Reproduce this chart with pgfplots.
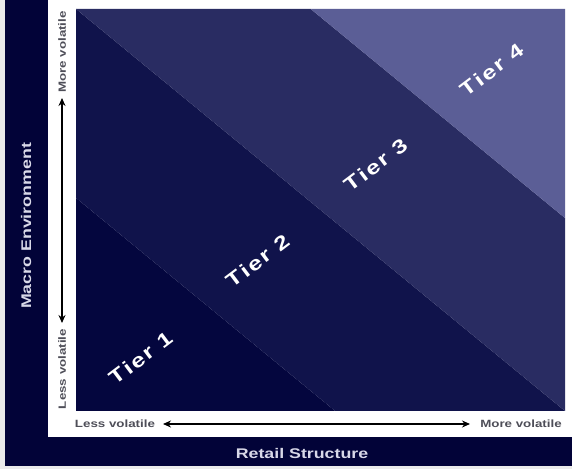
\documentclass[border=0pt]{standalone}
\usepackage{pgfplots}
\pgfplotsset{compat=1.18}
\usepackage{fontspec}
\setmainfont{Liberation Sans}[FakeStretch=1.27]
\newfontfamily\tierfont{Liberation Sans Bold}[FakeStretch=1.27,LetterSpace=10]
\usetikzlibrary{arrows.meta}

\definecolor{frame}{RGB}{2,3,56}
\definecolor{tierone}{RGB}{4,6,62}
\definecolor{tiertwo}{RGB}{16,19,75}
\definecolor{tierthree}{RGB}{41,44,98}
\definecolor{tierfour}{RGB}{91,94,150}
\definecolor{titletext}{RGB}{216,216,232}
\definecolor{smalltext}{RGB}{78,78,88}

\begin{document}
\begin{tikzpicture}[x=1bp,y=1bp]
\path[use as bounding box] (0,0) rectangle (572,469);
\fill[black!8] (0,0) rectangle (572,469);
\fill[frame] (5,3) rectangle (572,469);
\fill[white] (48,32) rectangle (572,469);

\begin{axis}[
    at={(76bp,58bp)}, anchor=south west,
    width=489bp, height=402bp, scale only axis,
    xmin=0, xmax=1, ymin=0, ymax=1,
    hide axis,
]
% bands, boundaries along x+y = 0.53, 1, 1.48
\addplot[draw=none, fill=tierone] coordinates {(0,0) (0.53,0) (0,0.53)};
\addplot[draw=none, fill=tiertwo] coordinates {(0.53,0) (1,0) (0,1) (0,0.53)};
\addplot[draw=none, fill=tierthree] coordinates {(1,0) (1,0.48) (0.48,1) (0,1)};
\addplot[draw=none, fill=tierfour] coordinates {(1,0.48) (1,1) (0.48,1)};
\end{axis}

% tier labels
\foreach \px/\py/\t in {141/111/Tier 1, 258/208/Tier 2, 376/304/Tier 3, 492/399/Tier 4}{
  \node[white, rotate=37, font=\tierfont\fontsize{19.5bp}{20bp}\selectfont] at (\px,\py) {\t};
}

% axis titles
\node[titletext, rotate=90, font=\bfseries\fontsize{14bp}{16bp}\selectfont] at (26,243) {Macro Environment};
\node[titletext, font=\bfseries\fontsize{14bp}{16bp}\selectfont] at (302,16) {Retail Structure};

% direction labels and arrows
\node[smalltext, rotate=90, font=\bfseries\fontsize{10.5bp}{12bp}\selectfont] at (62,417) {More volatile};
\node[smalltext, rotate=90, font=\bfseries\fontsize{10.5bp}{12bp}\selectfont] at (62,100) {Less volatile};
\node[smalltext, font=\bfseries\fontsize{10.5bp}{12bp}\selectfont] at (115,45) {Less volatile};
\node[smalltext, font=\bfseries\fontsize{10.5bp}{12bp}\selectfont] at (521,45) {More volatile};
\draw[black, line width=1.6bp, {Stealth[length=8bp,width=7bp]}-{Stealth[length=8bp,width=7bp]}] (62,146) -- (62,371);
\draw[black, line width=1.6bp, {Stealth[length=8bp,width=7bp]}-{Stealth[length=8bp,width=7bp]}] (163,45) -- (470,45);
\end{tikzpicture}
\end{document}
